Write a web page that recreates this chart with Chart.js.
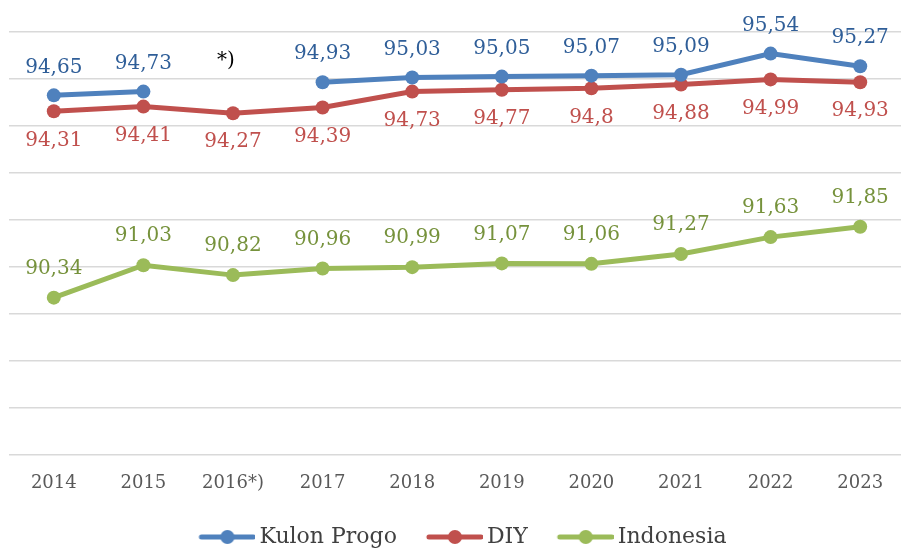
<!DOCTYPE html>
<html>
<head>
<meta charset="utf-8">
<script src="https://cdn.jsdelivr.net/npm/chart.js@4"></script>
<style>
  html, body { margin: 0; padding: 0; background: #fff; overflow: hidden; }
  #wrap { width: 912px; height: 548px; position: relative; }
</style>
</head>
<body>
<div id="wrap"><canvas id="chart"></canvas></div>
<script>
const years = ['2014', '2015', '2016*)', '2017', '2018', '2019', '2020', '2021', '2022', '2023'];
const kulonProgo = [94.65, 94.73, null, 94.93, 95.03, 95.05, 95.07, 95.09, 95.54, 95.27];
const diy = [94.31, 94.41, 94.27, 94.39, 94.73, 94.77, 94.8, 94.88, 94.99, 94.93];
const indonesia = [90.34, 91.03, 90.82, 90.96, 90.99, 91.07, 91.06, 91.27, 91.63, 91.85];
const noteIndex = 2;
const noteText = '*)';
const noteValue = 95.38;

const FONT = "'DejaVu Serif', serif";

// legend marker: a short line with a dot, shifted right so the text sits close
function legendMarker(color) {
  const c = document.createElement('canvas');
  c.width = 70; c.height = 16;
  const g = c.getContext('2d');
  g.strokeStyle = color;
  g.lineWidth = 5;
  g.lineCap = 'round';
  g.beginPath();
  g.moveTo(16, 8); g.lineTo(68, 8);
  g.stroke();
  g.fillStyle = color;
  g.beginPath();
  g.arc(42, 8, 7, 0, Math.PI * 2);
  g.fill();
  return c;
}

// value labels, written with a comma like the source
const valueLabels = {
  id: 'valueLabels',
  afterDatasetsDraw(chart) {
    const ctx = chart.ctx;
    ctx.save();
    ctx.font = '20px ' + FONT;
    ctx.textAlign = 'center';
    ctx.textBaseline = 'middle';
    chart.data.datasets.forEach((ds, i) => {
      const meta = chart.getDatasetMeta(i);
      meta.data.forEach((pt, j) => {
        const v = ds.data[j];
        if (v === null) return;
        ctx.fillStyle = ds.labelColor;
        ctx.fillText(String(v).replace('.', ','), pt.x, pt.y + ds.labelOffset);
      });
    });
    const xs = chart.scales.x, ys = chart.scales.y;
    ctx.fillStyle = '#000';
    ctx.fillText(noteText, xs.getPixelForValue(noteIndex) - 7, ys.getPixelForValue(noteValue));
    ctx.restore();
  }
};

const series = [
  { label: 'Kulon Progo', data: kulonProgo, color: '#4F81BD', labelColor: '#2F5E98', labelOffset: -28 },
  { label: 'DIY', data: diy, color: '#C0504D', labelColor: '#C0504D', labelOffset: 29 },
  { label: 'Indonesia', data: indonesia, color: '#9BBB59', labelColor: '#76923C', labelOffset: -29 }
];

new Chart(document.getElementById('chart'), {
  type: 'line',
  data: {
    labels: years,
    datasets: series.map(s => ({
      label: s.label,
      data: s.data,
      borderColor: s.color,
      backgroundColor: s.color,
      pointBackgroundColor: s.color,
      pointBorderWidth: 0,
      pointRadius: 7,
      borderWidth: 5,
      tension: 0,
      spanGaps: false,
      labelColor: s.labelColor,
      labelOffset: s.labelOffset,
      marker: legendMarker(s.color)
    }))
  },
  options: {
    responsive: true,
    maintainAspectRatio: false,
    animation: false,
    layout: { padding: { left: 9, right: 2, top: 32, bottom: -10 } },
    scales: {
      x: {
        offset: true,
        grid: { display: false, drawTicks: false },
        border: { display: false },
        ticks: { color: '#595959', font: { family: FONT, size: 18 }, padding: 18 },
        afterFit(scale) { scale.height -= 9; }
      },
      y: {
        min: 87,
        max: 96,
        grid: { color: '#D9D9D9', lineWidth: 1.5, drawTicks: false },
        border: { display: false },
        ticks: { display: false, stepSize: 1 }
      }
    },
    plugins: {
      tooltip: { enabled: false },
      legend: {
        position: 'bottom',
        labels: {
          usePointStyle: true,
          pointStyleWidth: 56,
          padding: 23,
          color: '#404040',
          font: { family: FONT, size: 22 },
          generateLabels(chart) {
            return chart.data.datasets.map((ds, i) => ({
              text: ds.label,
              pointStyle: ds.marker,
              fillStyle: ds.borderColor,
              strokeStyle: ds.borderColor,
              lineWidth: 0,
              hidden: false,
              fontColor: '#404040',
              datasetIndex: i
            }));
          }
        }
      }
    }
  },
  plugins: [valueLabels]
});
</script>
</body>
</html>
